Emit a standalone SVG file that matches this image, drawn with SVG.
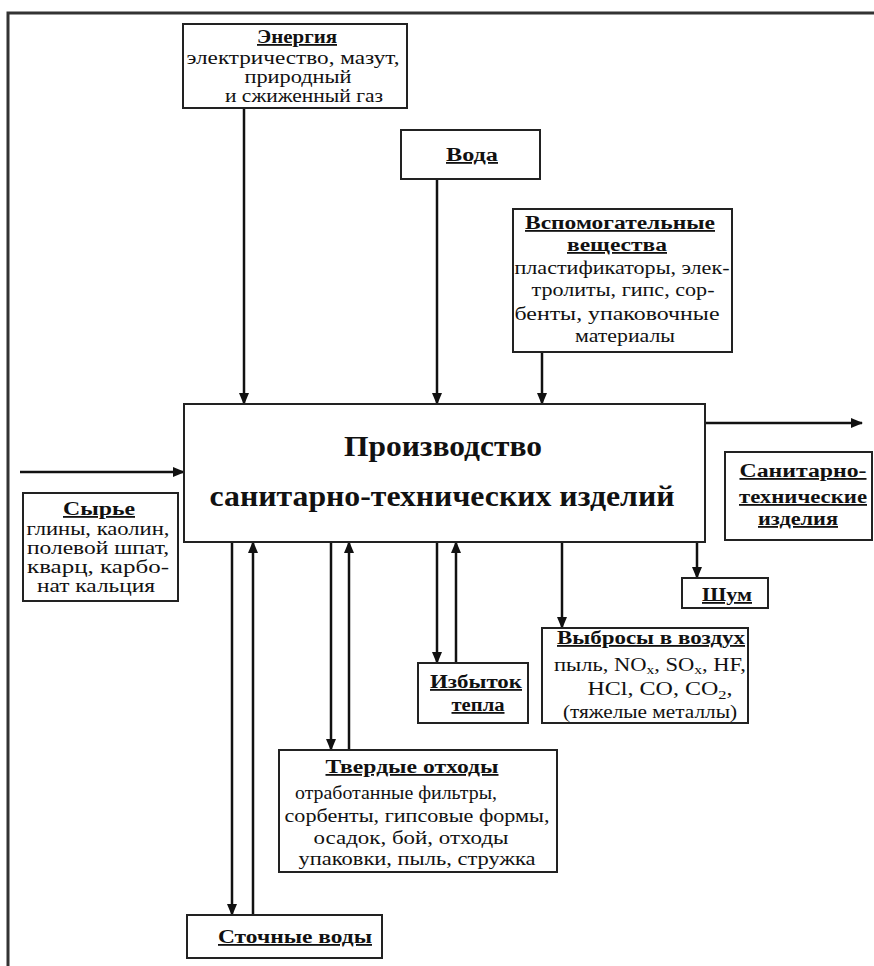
<svg xmlns="http://www.w3.org/2000/svg" width="874" height="966" viewBox="0 0 874 966">
  <defs>
    <marker id="arrow" markerUnits="userSpaceOnUse" markerWidth="12" markerHeight="12" viewBox="0 0 12 12" refX="11" refY="6" orient="auto">
      <path d="M0,1 L12,6 L0,11 Z" fill="#111"/>
    </marker>
    <style>
      .box { fill: #fff; stroke: #222; stroke-width: 2; }
      .frame { fill: none; stroke: #333; stroke-width: 3; }
      .conn { fill: none; stroke: #111; stroke-width: 2.5; marker-end: url(#arrow); }
      text { font-family: "Liberation Serif", "DejaVu Serif", serif; fill: #111; text-anchor: middle; }
      .h { font-weight: bold; font-size: 18px; text-decoration: underline; }
      .t { font-size: 18px; }
      .l { font-size: 19px; }
      .main { font-weight: bold; font-size: 30px; }
      .sub { font-size: 13px; }
    </style>
  </defs>

  <rect width="874" height="966" fill="#fff"/>
  <path class="frame" d="M8,966 V13 H874"/>

  <!-- connectors -->
  <g id="connectors">
    <line class="conn" x1="244" y1="108" x2="244" y2="404"/>
    <line class="conn" x1="437" y1="179" x2="437" y2="404"/>
    <line class="conn" x1="542" y1="352" x2="542" y2="404"/>
    <line class="conn" x1="20" y1="472" x2="184" y2="472"/>
    <line class="conn" x1="705" y1="423" x2="862" y2="423"/>
    <line class="conn" x1="232" y1="542" x2="232" y2="915"/>
    <line class="conn" x1="253" y1="915" x2="253" y2="542"/>
    <line class="conn" x1="331" y1="542" x2="331" y2="750"/>
    <line class="conn" x1="349" y1="750" x2="349" y2="542"/>
    <line class="conn" x1="437" y1="542" x2="437" y2="663"/>
    <line class="conn" x1="456" y1="663" x2="456" y2="542"/>
    <line class="conn" x1="562" y1="542" x2="562" y2="628"/>
    <line class="conn" x1="697" y1="542" x2="697" y2="578"/>
  </g>

  <g id="energy">
    <rect class="box" x="183" y="24" width="224" height="84"/>
    <text class="h" x="297" y="43" textLength="80" lengthAdjust="spacingAndGlyphs">Энергия</text>
    <text class="t" x="293" y="64" textLength="213" lengthAdjust="spacingAndGlyphs">электричество, мазут,</text>
    <text class="t" x="298" y="83" textLength="107" lengthAdjust="spacingAndGlyphs">природный</text>
    <text class="t" x="304" y="102" textLength="158" lengthAdjust="spacingAndGlyphs">и сжиженный газ</text>
  </g>

  <g id="water">
    <rect class="box" x="401" y="130" width="139" height="49"/>
    <text class="h" x="472" y="161" textLength="52" lengthAdjust="spacingAndGlyphs">Вода</text>
  </g>

  <g id="auxiliary">
    <rect class="box" x="513" y="209" width="219" height="143"/>
    <text class="h" x="620" y="229" textLength="190" lengthAdjust="spacingAndGlyphs">Вспомогательные</text>
    <text class="h" x="617" y="251" textLength="100" lengthAdjust="spacingAndGlyphs">вещества</text>
    <text class="t" x="622" y="274" textLength="215" lengthAdjust="spacingAndGlyphs">пластификаторы, элек-</text>
    <text class="t" x="623" y="296" textLength="183" lengthAdjust="spacingAndGlyphs">тролиты, гипс, сор-</text>
    <text class="t" x="617" y="320" textLength="205" lengthAdjust="spacingAndGlyphs">бенты, упаковочные</text>
    <text class="t" x="625" y="342" textLength="100" lengthAdjust="spacingAndGlyphs">материалы</text>
  </g>

  <g id="production">
    <rect class="box" x="184" y="404" width="521" height="138"/>
    <text class="main" x="443" y="456" textLength="198" lengthAdjust="spacingAndGlyphs">Производство</text>
    <text class="main" x="442" y="506" textLength="465" lengthAdjust="spacingAndGlyphs">санитарно-технических изделий</text>
  </g>

  <g id="raw">
    <rect class="box" x="23" y="493" width="155" height="108"/>
    <text class="h" x="99" y="515" textLength="72" lengthAdjust="spacingAndGlyphs">Сырье</text>
    <text class="t" x="98" y="535" textLength="143" lengthAdjust="spacingAndGlyphs">глины, каолин,</text>
    <text class="t" x="98" y="554" textLength="142" lengthAdjust="spacingAndGlyphs">полевой шпат,</text>
    <text class="t" x="98" y="573" textLength="142" lengthAdjust="spacingAndGlyphs">кварц, карбо-</text>
    <text class="t" x="96" y="592" textLength="118" lengthAdjust="spacingAndGlyphs">нат кальция</text>
  </g>

  <g id="products">
    <rect class="box" x="725" y="452" width="147" height="88"/>
    <text class="h" x="803" y="477" textLength="127" lengthAdjust="spacingAndGlyphs">Санитарно-</text>
    <text class="h" x="803" y="503" textLength="128" lengthAdjust="spacingAndGlyphs">технические</text>
    <text class="h" x="798" y="525" textLength="80" lengthAdjust="spacingAndGlyphs">изделия</text>
  </g>

  <g id="noise">
    <rect class="box" x="682" y="578" width="86" height="30"/>
    <text class="h" x="727" y="601" textLength="50" lengthAdjust="spacingAndGlyphs">Шум</text>
  </g>

  <g id="emissions">
    <rect class="box" x="542" y="628" width="206" height="95"/>
    <text class="h" x="651" y="644" textLength="188" lengthAdjust="spacingAndGlyphs">Выбросы в воздух</text>
    <text class="l" x="650" y="671" textLength="192" lengthAdjust="spacingAndGlyphs">пыль, NO<tspan class="sub" dy="3">x</tspan><tspan dy="-3">, SO</tspan><tspan class="sub" dy="3">x</tspan><tspan dy="-3">, HF,</tspan></text>
    <text class="l" x="660" y="695" textLength="145" lengthAdjust="spacingAndGlyphs">HCl, CO, CO<tspan class="sub" dy="4">2</tspan><tspan dy="-4">,</tspan></text>
    <text class="l" x="650" y="718" textLength="174" lengthAdjust="spacingAndGlyphs">(тяжелые металлы)</text>
  </g>

  <g id="heat">
    <rect class="box" x="418" y="663" width="110" height="60"/>
    <text class="h" x="476" y="688" textLength="92" lengthAdjust="spacingAndGlyphs">Избыток</text>
    <text class="h" x="478" y="711" textLength="53" lengthAdjust="spacingAndGlyphs">тепла</text>
  </g>

  <g id="solid-waste">
    <rect class="box" x="279" y="750" width="278" height="122"/>
    <text class="h" x="412" y="773" textLength="173" lengthAdjust="spacingAndGlyphs">Твердые отходы</text>
    <text class="l" x="396" y="799" textLength="202" lengthAdjust="spacingAndGlyphs">отработанные фильтры,</text>
    <text class="l" x="417" y="822" textLength="265" lengthAdjust="spacingAndGlyphs">сорбенты, гипсовые формы,</text>
    <text class="l" x="411" y="844" textLength="195" lengthAdjust="spacingAndGlyphs">осадок, бой, отходы</text>
    <text class="l" x="417" y="865" textLength="237" lengthAdjust="spacingAndGlyphs">упаковки, пыль, стружка</text>
  </g>

  <g id="wastewater">
    <rect class="box" x="187" y="915" width="195" height="43"/>
    <text class="h" x="295" y="943" textLength="154" lengthAdjust="spacingAndGlyphs">Сточные воды</text>
  </g>
</svg>
